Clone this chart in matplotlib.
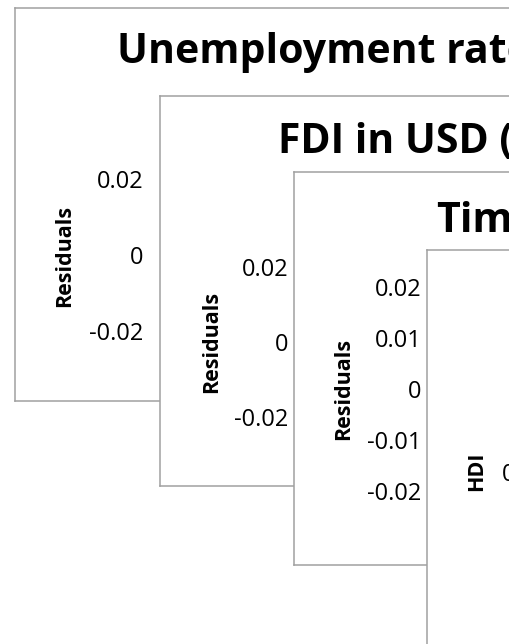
import matplotlib
matplotlib.use('Agg')
import matplotlib.pyplot as plt
from matplotlib.patches import Rectangle

plt.rcParams['font.family'] = ['Open Sans', 'DejaVu Sans']

# 数据：四个叠放的 Excel 回归图（右侧被截掉，只看得到标题开头）
titles = ['Unemployment rate', 'FDI in USD (', 'Time', '']
ylabels = ['Residuals', 'Residuals', 'Residuals', 'HDI']
ticks_1 = [-0.02, 0, 0.02]
ticks_2 = [-0.02, 0, 0.02]
ticks_3 = [-0.02, -0.01, 0, 0.01, 0.02]
ticks_4 = [0.7, 0.75, 0.8]
all_ticks = [ticks_1, ticks_2, ticks_3, ticks_4]

W, H = 529, 644
CUT = 509   # 截图右边界

# 版式（像素）
frames = [(14.5, 8, 620, 401), (160, 96, 620, 486), (293.5, 172, 620, 565), (427, 250, 620, 700)]
tick_area = [(143, 179.5, 331.5), (288.5, 266.7, 416.7), (421.5, 287, 491.5), (548.5, 371.7, 571.7)]
ylabel_pos = [(65, 255.5), (211.7, 341.7), (344, 389.4), (477, 471.7)]
title_pos = [(117, 63), (278, 153), (436, 232), (540, 311)]


def box(x0, y0, x1, y1):
    return [x0 / W, 1 - y1 / H, (x1 - x0) / W, (y1 - y0) / H]


fig = plt.figure(figsize=(W / 100, H / 100), dpi=100)

for i in range(4):
    # 外框
    fr = fig.add_axes(box(*frames[i]))
    fr.set_zorder(2 * i)
    fr.set_xticks([])
    fr.set_yticks([])
    for s in fr.spines.values():
        s.set_color('#a0a0a0')
        s.set_linewidth(1.1)
    if titles[i]:
        fr.text(title_pos[i][0] / W, 1 - title_pos[i][1] / H, titles[i], transform=fig.transFigure,
                ha='left', va='baseline', fontsize=29.5, fontweight='bold', color='black')
    fr.text(ylabel_pos[i][0] / W, 1 - ylabel_pos[i][1] / H, ylabels[i], transform=fig.transFigure,
            ha='center', va='center', rotation=90, fontsize=15.5, fontweight='bold', color='black')

    # 纵轴刻度
    xr, yt, yb = tick_area[i]
    ax = fig.add_axes(box(xr, yt, xr + 40, yb))
    ax.set_zorder(2 * i + 1)
    ax.patch.set_visible(False)
    for s in ax.spines.values():
        s.set_visible(False)
    t = all_ticks[i]
    ax.set_ylim(min(t), max(t))
    ax.set_yticks(t)
    ax.set_yticklabels([str(v) for v in t])
    ax.set_xticks([])
    ax.tick_params(axis='y', length=0, pad=0, labelsize=17, labelcolor='black')

# 右侧截断
fig.add_artist(Rectangle((CUT / W, 0), 1, 1, transform=fig.transFigure,
                         facecolor='white', edgecolor='none', zorder=100))

fig.savefig('out.png', dpi=100)
